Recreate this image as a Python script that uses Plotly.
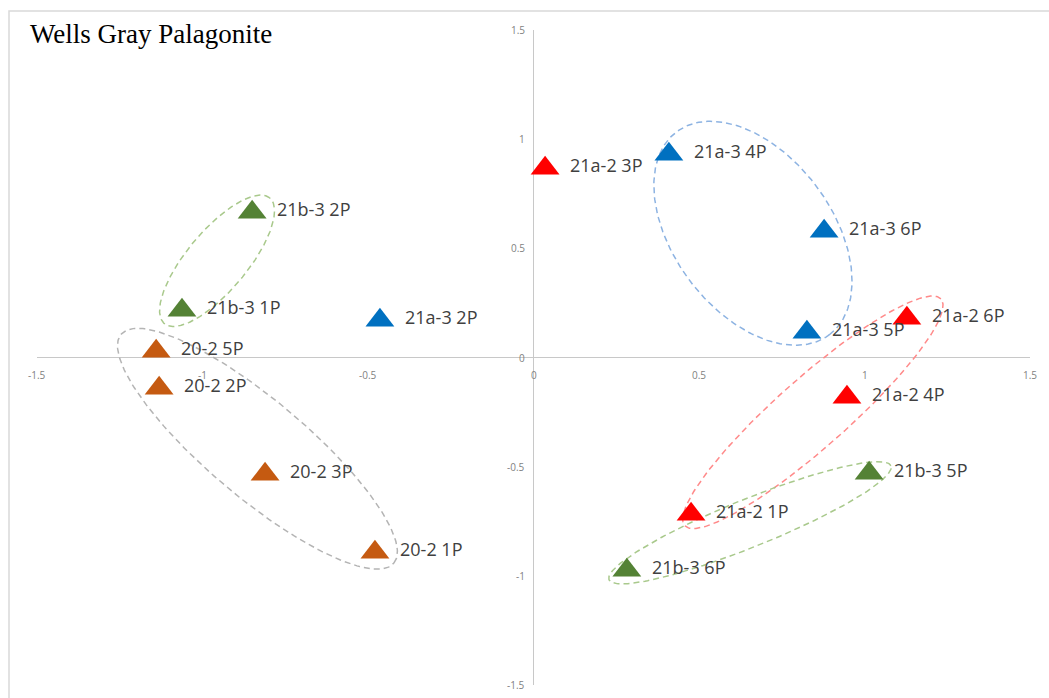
import numpy as np
import plotly.graph_objects as go

# ---------------- data ----------------
labels_blue = ["21a-3 4P", "21a-3 6P", "21a-3 5P", "21a-3 2P"]
x_blue = [0.409, 0.878, 0.826, -0.464]
y_blue = [0.931, 0.578, 0.116, 0.171]

labels_red = ["21a-2 3P", "21a-2 6P", "21a-2 4P", "21a-2 1P"]
x_red = [0.035, 1.128, 0.947, 0.476]
y_red = [0.867, 0.180, -0.182, -0.718]

labels_green = ["21b-3 2P", "21b-3 1P", "21b-3 5P", "21b-3 6P"]
x_green = [-0.850, -1.062, 1.014, 0.282]
y_green = [0.665, 0.216, -0.530, -0.974]

labels_orange = ["20-2 5P", "20-2 2P", "20-2 3P", "20-2 1P"]
x_orange = [-1.140, -1.131, -0.811, -0.479]
y_orange = [0.029, -0.141, -0.535, -0.892]

tick_vals = [-1.5, -1, -0.5, 0, 0.5, 1, 1.5]
tick_text = ["-1.5", "-1", "-0.5", "0", "0.5", "1", "1.5"]

# group ellipses: centre (data units), semi-axes (px), rotation (deg), colour
ell_cx = [0.663, -0.834, -0.956, 0.844, 0.654]
ell_cy = [0.569, -0.418, 0.443, -0.251, -0.757]
ell_a = [127, 178, 82, 171, 152]
ell_b = [79, 49, 30, 35, 24]
ell_ang = [-53, -40, 50, 41.5, 22]
ell_col = ["#8DB3E2", "#B4B4B4", "#A9C98C", "#FF8A8A", "#A9C98C"]

# ---------------- layout constants ----------------
W, H = 1049, 698
ML, MR, MT, MB = 37, 19, 30, 13
RANGE = [-1.5, 1.5]
ppx = (W - ML - MR) / (RANGE[1] - RANGE[0])
ppy = (H - MT - MB) / (RANGE[1] - RANGE[0])

fig = go.Figure()

# ellipses
t = np.linspace(0, 2 * np.pi, 240)
for cx, cy, a, b, ang, col in zip(ell_cx, ell_cy, ell_a, ell_b, ell_ang, ell_col):
    th = np.deg2rad(ang)
    u, v = a * np.cos(t), b * np.sin(t)
    dx = u * np.cos(th) - v * np.sin(th)
    dy = u * np.sin(th) + v * np.cos(th)
    fig.add_trace(go.Scatter(x=cx + dx / ppx, y=cy + dy / ppy, mode="lines",
                             line=dict(color=col, width=1.5, dash="6px,4px"),
                             hoverinfo="skip", showlegend=False))

series = [
    (labels_blue, x_blue, y_blue, "#0070C0"),
    (labels_red, x_red, y_red, "#FF0000"),
    (labels_green, x_green, y_green, "#548235"),
    (labels_orange, x_orange, y_orange, "#C55A11"),
]
for labs, xs, ys, col in series:
    fig.add_trace(go.Scatter(x=xs, y=ys, mode="markers",
                             marker=dict(symbol="triangle-up", size=25, color=col,
                                         line=dict(width=0)),
                             text=labs, showlegend=False))
    for lab, xv, yv in zip(labs, xs, ys):
        fig.add_annotation(x=xv, y=yv, text=lab, showarrow=False, xanchor="left",
                           yanchor="middle", xshift=23, yshift=3,
                           font=dict(family="Open Sans", size=18, color="#404040"))

# tick labels at the crossing axes
for tv, tt in zip(tick_vals, tick_text):
    fig.add_annotation(x=tv, y=0, text=tt, showarrow=False, xanchor="center",
                       yanchor="middle", yshift=-17,
                       font=dict(family="Open Sans", size=10, color="#7F7F7F"))
    fig.add_annotation(x=0, y=tv, text=tt, showarrow=False, xanchor="right",
                       yanchor="middle", xshift=-7,
                       font=dict(family="Open Sans", size=10, color="#7F7F7F"))

# outer chart border
fig.add_shape(type="rect", xref="paper", yref="paper",
              x0=(9 - ML) / (W - ML - MR), x1=1.2,
              y0=-0.2, y1=1 + (MT - 11) / (H - MT - MB),
              line=dict(color="#D9D9D9", width=1.5), fillcolor="rgba(0,0,0,0)", layer="below")

fig.update_layout(
    width=W, height=H,
    margin=dict(l=ML, r=MR, t=MT, b=MB),
    paper_bgcolor="white", plot_bgcolor="white",
    title=dict(text="Wells Gray Palagonite", xref="container", yref="container",
               x=30 / W, xanchor="left", y=1 - 34 / H, yanchor="middle",
               font=dict(family="Liberation Serif", size=27, color="black")),
    xaxis=dict(range=RANGE, showgrid=False, showticklabels=False, ticks="",
               zeroline=True, zerolinecolor="#C8C8C8", zerolinewidth=1.3,
               showline=False, fixedrange=True),
    yaxis=dict(range=RANGE, showgrid=False, showticklabels=False, ticks="",
               zeroline=True, zerolinecolor="#C8C8C8", zerolinewidth=1.3,
               showline=False, fixedrange=True),
)

fig.write_html("out.html", config={"displayModeBar": False},
               post_script="document.body.style.margin='0px';")
